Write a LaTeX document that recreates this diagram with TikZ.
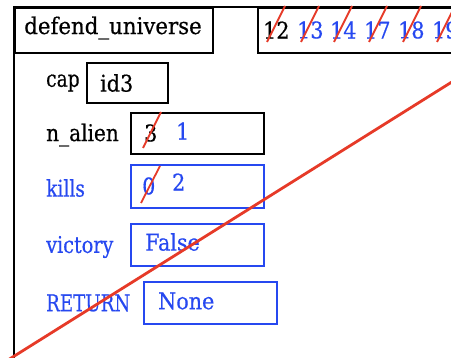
\documentclass[tikz,border=0pt]{standalone}
\usepackage{fontspec}
\setmainfont[FakeBold=0.5]{DejaVu Serif Condensed}
\definecolor{inkblue}{RGB}{38,72,240}
\definecolor{strike}{RGB}{230,58,40}
\tikzset{
  x=1pt, y=-1pt,
  lbl/.style={anchor=west, inner sep=0pt, font=\fontsize{23}{27}\selectfont},
  val/.style={draw, line width=1.6pt, anchor=north west, inner sep=0pt},
  cross/.style={strike, line width=1.8pt},
}
\newcommand{\squeeze}[2]{\scalebox{#1}[1]{#2}}
\begin{document}
\begin{tikzpicture}
\useasboundingbox (0,0) rectangle (451,358);
\clip (0,0) rectangle (451,358);
% frame
\draw[line width=1.6pt] (14,370) -- (14,7) -- (460,7);
% header boxes
\node[val, minimum width=198pt, minimum height=45pt] (title) at (14,7) {};
\node[lbl, anchor=center] (titletxt) at (113,28) {\squeeze{1.03}{defend\_universe}};
\node[val, minimum width=210pt, minimum height=45pt] (lines) at (257,7) {};
\node[lbl] (l12) at (263,30) {12};
\node[lbl, inkblue] (l13) at (297,30) {13};
\node[lbl, inkblue] (l14) at (330,30) {14};
\node[lbl, inkblue] (l17) at (364,30) {17};
\node[lbl, inkblue] (l18) at (398,30) {18};
\node[lbl, inkblue] (l19) at (432,30) {19};
\foreach \cx in {276,310,343,378,412,446}
  \draw[cross] (\cx-9,42) -- (\cx+9,6);
% variables
\node[lbl] (capl) at (46,83) {\squeeze{0.9}{cap}};
\node[val, minimum width=81pt, minimum height=40pt] (capv) at (86,62) {};
\node[lbl] at (100,83) {id3};

\node[lbl] (nal) at (46,135) {\squeeze{0.97}{n\_alien}};
\node[val, minimum width=133pt, minimum height=41pt] (nav) at (130,112) {};
\node[lbl] (na3) at (144,133) {3};
\node[lbl, inkblue] (na1) at (176,131) {1};
\draw[cross] (143,148) -- (161,112);

\node[lbl, inkblue] (kl) at (46,188) {\squeeze{0.9}{kills}};
\node[val, inkblue, minimum width=133pt, minimum height=43pt] (kv) at (130,164) {};
\node[lbl, inkblue] (k0) at (142,186) {0};
\node[lbl, inkblue] (k2) at (172,182) {2};
\draw[cross] (141,203) -- (160,166);

\node[lbl, inkblue] (vl) at (46,247) {\squeeze{0.93}{victory}};
\node[val, inkblue, minimum width=133pt, minimum height=42pt] (vv) at (130,223) {};
\node[lbl, inkblue] (vf) at (145,242) {False};

\node[lbl, inkblue] (rl) at (46,303) {\squeeze{0.88}{RETURN}};
\node[val, inkblue, minimum width=133pt, minimum height=42pt] (rv) at (143,281) {};
\node[lbl, inkblue] (rn) at (158,301) {None};
% strike-through of the whole frame
\draw[strike, line width=2.8pt] (8,360) -- (455,80);
\end{tikzpicture}
\end{document}
